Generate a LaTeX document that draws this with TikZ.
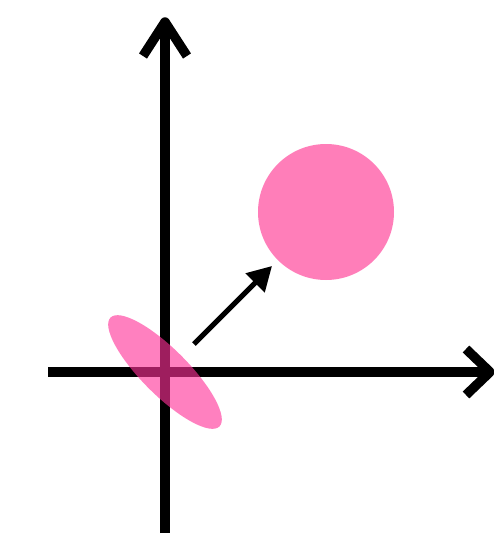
\documentclass[tikz,border=0pt]{standalone}
\usetikzlibrary{arrows.meta}
\definecolor{circpink}{RGB}{255,126,185}
\definecolor{ellpink}{RGB}{255,50,152}
\begin{document}
\begin{tikzpicture}[x=1pt,y=-1pt,
  axisline/.style={line width=9.5pt},
  chevron/.style={line width=9.5pt,line join=round},
  vecarrow/.style={line width=5pt,-{Triangle[length=24pt,width=26pt]}}]
\useasboundingbox (0,0) rectangle (493,541);
\coordinate (o) at (165,372);
\coordinate (ytop) at (165,22);
\coordinate (ybot) at (165,533);
\coordinate (xleft) at (48,372);
\coordinate (xright) at (490,372);
\coordinate (vs) at (194,344);
\coordinate (ve) at (272,266);
\node[circle,fill=circpink,minimum size=136pt,inner sep=0pt] (ball) at (326,212) {};
\draw[axisline] (ybot) -- (ytop);
\draw[axisline] (xleft) -- (xright);
\draw[chevron] (143,56) -- (ytop) -- (187,56);
\draw[chevron] (466,349) -- (xright) -- (466,395);
\fill[ellpink,opacity=0.62,rotate around={-45:(o)}] (o) ellipse [x radius=77pt,y radius=23pt];
\draw[vecarrow] (vs) -- (ve);
\end{tikzpicture}
\end{document}
